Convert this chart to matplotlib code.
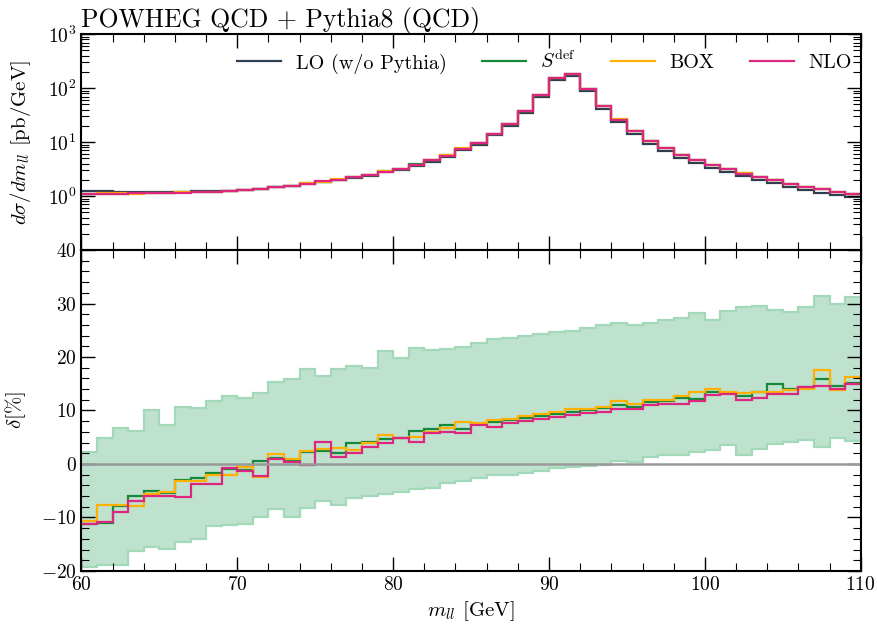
import numpy as np
import matplotlib
matplotlib.use('Agg')
import matplotlib.pyplot as plt
from matplotlib.ticker import MultipleLocator, LogLocator, NullFormatter

plt.rcParams['font.family'] = 'serif'
plt.rcParams['font.serif'] = ['cmr10']
plt.rcParams['mathtext.fontset'] = 'cm'
plt.rcParams['axes.formatter.use_mathtext'] = True

# binning: 1 GeV bins from 60 to 110 GeV
edges = np.arange(60, 111, 1)

# LO (w/o Pythia) distribution [pb/GeV]
lo = [1.23, 1.22, 1.21, 1.20, 1.19, 1.20, 1.21, 1.22, 1.23, 1.25,
      1.30, 1.37, 1.45, 1.55, 1.68, 1.80, 1.98, 2.20, 2.40, 2.74,
      3.09, 3.65, 4.37, 5.32, 7.09, 9.0, 13.3, 20.1, 35.3, 67.5,
      141, 166, 87.6, 41.8, 23.6, 14.3, 9.36, 6.91, 5.13, 4.13,
      3.30, 2.75, 2.34, 1.99, 1.73, 1.45, 1.30, 1.16, 1.04, 0.95]

# relative deviation from LO [%]
delta_sdef = [-11.2, -11.0, -7.9, -6.0, -5.1, -5.4, -2.9, -2.7, -1.7, -1.0,
              -1.2, 0.5, 1.2, 0.6, 2.3, 2.4, 2.0, 4.0, 4.2, 4.7,
              4.9, 6.2, 6.5, 7.3, 6.5, 7.5, 7.9, 8.2, 8.6, 9.0,
              9.4, 9.8, 10.1, 10.4, 11.0, 10.7, 11.5, 11.8, 12.4, 12.1,
              13.5, 13.2, 12.8, 13.5, 14.9, 14.1, 14.3, 15.9, 14.6, 15.1]
delta_box = [-10.7, -7.6, -7.6, -7.9, -5.7, -5.3, -3.1, -3.1, -2.0, -2.1,
             -0.6, -2.4, 1.8, 0.9, 2.4, 2.8, 3.0, 2.6, 3.9, 5.5,
             4.8, 5.1, 6.0, 6.8, 7.8, 7.6, 8.2, 8.4, 9.0, 9.3,
             9.8, 10.2, 10.3, 10.6, 11.8, 11.3, 11.9, 11.9, 12.8, 13.4,
             14.1, 13.5, 13.2, 13.4, 13.5, 13.8, 14.0, 17.5, 13.8, 16.2]
delta_nlo = [-11.2, -10.9, -8.9, -7.0, -6.0, -6.0, -6.2, -3.8, -3.8, -0.8,
             -1.3, -2.2, 0.9, 0.4, -0.1, 4.1, 1.3, 2.0, 3.2, 4.0,
             4.8, 4.2, 5.7, 6.0, 5.8, 7.3, 7.0, 7.7, 8.1, 8.5,
             8.8, 9.1, 9.5, 9.8, 10.3, 10.3, 11.1, 11.3, 11.3, 11.8,
             12.9, 13.0, 11.9, 12.4, 13.0, 13.1, 14.3, 14.6, 14.1, 14.9]

# uncertainty band [%]
band_up = [2.2, 4.9, 6.8, 6.2, 10.0, 7.2, 10.6, 10.5, 11.8, 12.8,
           12.3, 13.2, 15.4, 15.8, 17.8, 16.5, 17.7, 18.3, 18.0, 21.1,
           19.9, 21.7, 21.4, 21.5, 21.8, 22.6, 23.3, 23.6, 24.0, 24.3,
           24.6, 24.9, 25.4, 25.9, 26.3, 26.0, 26.4, 26.9, 27.2, 28.2,
           27.0, 28.6, 29.3, 29.5, 28.8, 28.5, 29.3, 31.4, 30.0, 31.2]
band_dn = [-19.2, -18.8, -18.8, -16.3, -15.6, -15.8, -14.5, -14.0, -11.6, -11.4,
           -11.3, -9.9, -8.5, -10.0, -8.3, -7.0, -7.6, -6.4, -6.0, -5.6,
           -5.2, -4.7, -4.4, -3.6, -3.2, -2.7, -2.1, -2.0, -1.7, -1.3,
           -0.8, -0.6, -0.3, -0.1, 0.6, 0.3, 1.3, 1.7, 1.6, 2.3,
           2.7, 3.5, 1.7, 2.8, 3.7, 4.2, 4.5, 3.2, 4.9, 4.3]

labels = ['LO (w/o Pythia)', r'$S^{\rm def}$', 'BOX', 'NLO']
colors = ['#2e3f52', '#15883a', '#ffb000', '#dc267f']
ytick_vals = [0.1, 1, 10, 100, 1000]
ytick_labels = ['', r'$10^0$', r'$10^1$', r'$10^2$', r'$10^3$']

lo = np.array(lo)
deltas = [np.array(delta_sdef), np.array(delta_box), np.array(delta_nlo)]

fig = plt.figure(figsize=(8.77, 6.28), dpi=100)
ax1 = fig.add_axes([0.0929, 0.6019, 0.8885, 0.3436])
ax2 = fig.add_axes([0.0929, 0.0908, 0.8885, 0.5111])

# upper panel: distributions
ax1.stairs(lo, edges, baseline=None, color=colors[0], lw=1.6, label=labels[0])
for d, c, lab in zip(deltas, colors[1:], labels[1:]):
    ax1.stairs(lo * (1 + d / 100), edges, baseline=None, color=c, lw=1.6, label=lab)
ax1.set_yscale('log')
ax1.set_ylim(0.1, 1000)
ax1.set_xlim(60, 110)
ax1.set_yticks(ytick_vals, ytick_labels)
ax1.yaxis.set_minor_locator(LogLocator(base=10, subs=np.arange(2, 10), numticks=20))
ax1.yaxis.set_minor_formatter(NullFormatter())
ax1.tick_params(labelbottom=False)
ax1.set_ylabel(r'$d\sigma/dm_{ll}$ [pb/GeV]', fontsize=15)
ax1.yaxis.set_label_coords(-0.062, 0.5)
ax1.set_title('POWHEG QCD + Pythia8 (QCD)', loc='left', fontsize=18.5, pad=4)
ax1.legend(loc='center', bbox_to_anchor=(0.594, 0.87), ncol=4, frameon=False,
           fontsize=14.5, handlelength=2.2, handletextpad=0.7, columnspacing=1.75)

# lower panel: ratios
ax2.stairs(band_up, edges, baseline=band_dn, fill=True, color='#bfe2cf', lw=0)
ax2.stairs(band_up, edges, baseline=None, color='#a3d8b9', lw=1.6)
ax2.stairs(band_dn, edges, baseline=None, color='#a3d8b9', lw=1.6)
ax2.axhline(0, color='#999999', lw=1.8)
for d, c in zip(deltas, colors[1:]):
    ax2.stairs(d, edges, baseline=None, color=c, lw=1.6)
ax2.set_xlim(60, 110)
ax2.set_ylim(-20, 40)
ax2.yaxis.set_major_locator(MultipleLocator(10))
ax2.yaxis.set_minor_locator(MultipleLocator(2))
ax2.set_ylabel(r'$\delta[\%]$', fontsize=15)
ax2.yaxis.set_label_coords(-0.068, 0.5)
ax2.set_xlabel(r'$m_{ll}$ [GeV]', fontsize=15)

for ax in (ax1, ax2):
    ax.xaxis.set_major_locator(MultipleLocator(10))
    ax.xaxis.set_minor_locator(MultipleLocator(2))
    ax.tick_params(which='both', direction='in', top=True, right=True, labelsize=14)
    ax.tick_params(which='major', length=10, width=1)
    ax.tick_params(which='minor', length=5.5, width=0.8)
    for s in ax.spines.values():
        s.set_linewidth(1.5)

fig.savefig('out.png', dpi=100)
